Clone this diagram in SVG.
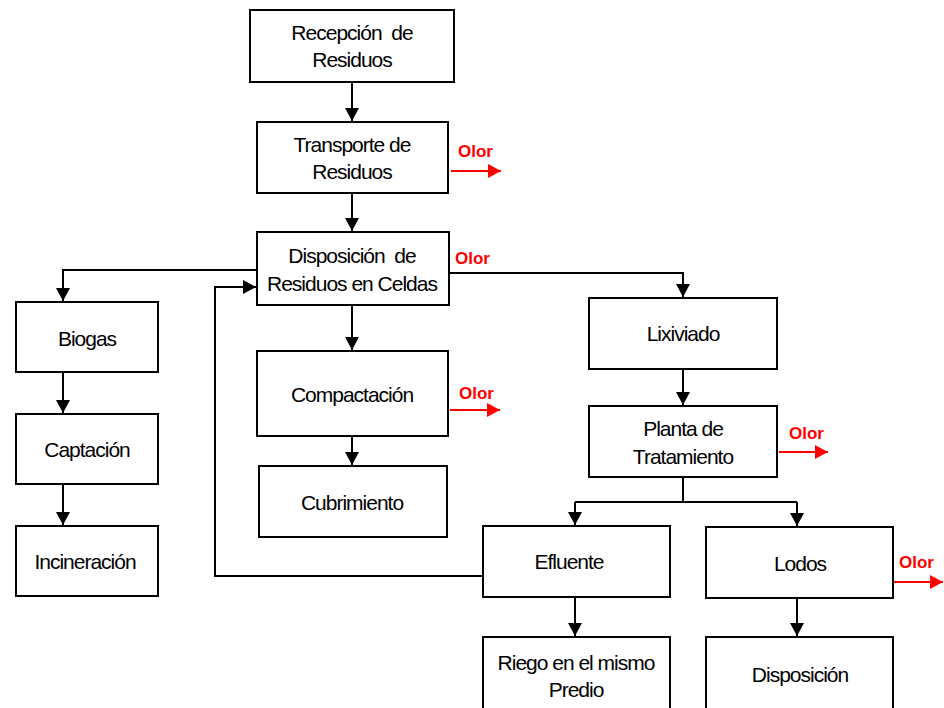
<svg xmlns="http://www.w3.org/2000/svg" width="944" height="708" viewBox="0 0 944 708">
<style>
.box{fill:#fff;stroke:#000;stroke-width:2}
.t{font-family:"Liberation Sans",Arial,sans-serif;font-size:21px;letter-spacing:-1px;text-anchor:middle;fill:#000;white-space:pre}
.olor{font-family:"Liberation Sans",Arial,sans-serif;font-size:17px;font-weight:bold;fill:#f00}
.c{fill:none;stroke:#000;stroke-width:2}
.r{fill:none;stroke:#f00;stroke-width:2}
</style>
<defs>
<marker id="ah" markerUnits="userSpaceOnUse" markerWidth="14" markerHeight="14" refX="13" refY="7" orient="auto"><path d="M0,0 L13,7 L0,14 z" fill="#000"/></marker>
<marker id="ahr" markerUnits="userSpaceOnUse" markerWidth="14" markerHeight="14" refX="13" refY="7" orient="auto"><path d="M0,0 L13,7 L0,14 z" fill="#f00"/></marker>
</defs>
<rect width="944" height="708" fill="#fff"/>
<g id="connectors">
<path class="c" d="M352,82 V121" marker-end="url(#ah)"/>
<path class="c" d="M352,193 V231" marker-end="url(#ah)"/>
<path class="c" d="M257,270 H63 V301" marker-end="url(#ah)"/>
<path class="c" d="M449,273 H683 V297" marker-end="url(#ah)"/>
<path class="c" d="M352,305 V350" marker-end="url(#ah)"/>
<path class="c" d="M352,436 V465" marker-end="url(#ah)"/>
<path class="c" d="M63,372 V413" marker-end="url(#ah)"/>
<path class="c" d="M63,484 V525" marker-end="url(#ah)"/>
<path class="c" d="M683,369 V405" marker-end="url(#ah)"/>
<path class="c" d="M683,477 V502"/>
<path class="c" d="M575,502 H797"/>
<path class="c" d="M575,502 V525" marker-end="url(#ah)"/>
<path class="c" d="M797,502 V526" marker-end="url(#ah)"/>
<path class="c" d="M483,576 H215 V287 H256" marker-end="url(#ah)"/>
<path class="c" d="M575,597 V636" marker-end="url(#ah)"/>
<path class="c" d="M797,598 V636" marker-end="url(#ah)"/>
</g>
<g id="olor">
<text class="olor" x="458" y="157">Olor</text>
<path class="r" d="M451,171 H501" marker-end="url(#ahr)"/>
<text class="olor" x="455" y="264">Olor</text>
<text class="olor" x="459" y="399">Olor</text>
<path class="r" d="M450,410 H500" marker-end="url(#ahr)"/>
<text class="olor" x="789" y="439">Olor</text>
<path class="r" d="M779,452 H828" marker-end="url(#ahr)"/>
<text class="olor" x="899" y="568">Olor</text>
<path class="r" d="M893,582 H943" marker-end="url(#ahr)"/>
</g>
<g id="recepcion"><rect class="box" x="250" y="10" width="204" height="72"/><text class="t" x="352" y="40">Recepción  de</text><text class="t" x="352" y="67">Residuos</text></g>
<g id="transporte"><rect class="box" x="257" y="122" width="191" height="71"/><text class="t" x="352" y="152">Transporte de</text><text class="t" x="352" y="179">Residuos</text></g>
<g id="disposicion-celdas"><rect class="box" x="257" y="232" width="192" height="73"/><text class="t" x="352" y="263">Disposición  de</text><text class="t" x="352" y="291">Residuos en Celdas</text></g>
<g id="biogas"><rect class="box" x="16" y="302" width="142" height="70"/><text class="t" x="87" y="346">Biogas</text></g>
<g id="captacion"><rect class="box" x="16" y="414" width="142" height="70"/><text class="t" x="87" y="457">Captación</text></g>
<g id="incineracion"><rect class="box" x="16" y="526" width="142" height="70"/><text class="t" x="85" y="569">Incineración</text></g>
<g id="compactacion"><rect class="box" x="257" y="351" width="191" height="85"/><text class="t" x="352" y="402">Compactación</text></g>
<g id="cubrimiento"><rect class="box" x="259" y="466" width="188" height="71"/><text class="t" x="352" y="510">Cubrimiento</text></g>
<g id="lixiviado"><rect class="box" x="589" y="298" width="188" height="71"/><text class="t" x="683" y="341">Lixiviado</text></g>
<g id="planta"><rect class="box" x="589" y="406" width="188" height="71"/><text class="t" x="683" y="436">Planta de</text><text class="t" x="683" y="464">Tratamiento</text></g>
<g id="efluente"><rect class="box" x="483" y="526" width="187" height="71"/><text class="t" x="569" y="569">Efluente</text></g>
<g id="lodos"><rect class="box" x="706" y="527" width="187" height="71"/><text class="t" x="800" y="571">Lodos</text></g>
<g id="riego"><rect class="box" x="483" y="637" width="187" height="80"/><text class="t" x="576" y="670">Riego en el mismo</text><text class="t" x="576" y="697">Predio</text></g>
<g id="disposicion"><rect class="box" x="706" y="637" width="187" height="80"/><text class="t" x="800" y="682">Disposición</text></g>
</svg>
